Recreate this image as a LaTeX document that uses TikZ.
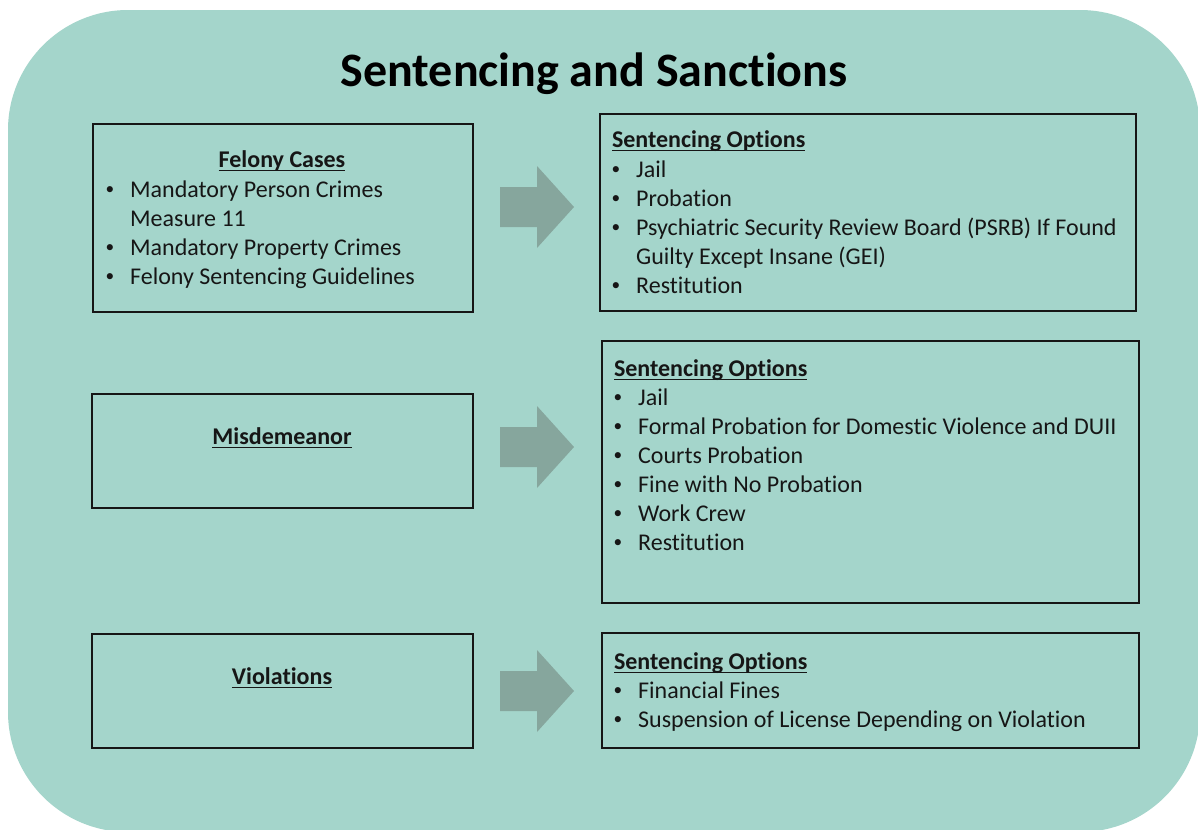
\documentclass[tikz,border=0pt]{standalone}
\usepackage{fontspec}
\setmainfont{Carlito}[Ligatures={NoCommon}]
\usetikzlibrary{fit}

\definecolor{panelteal}{RGB}{164,213,203}
\definecolor{blockgray}{RGB}{134,166,157}
\definecolor{inkdark}{RGB}{22,22,22}

% bold heading with a thin underline just below the baseline
\newcommand\headul[1]{\setbox0\hbox{\bfseries #1}\rlap{\rule[-3.2pt]{\wd0}{1.1pt}}\box0}
% small bullet followed by the hanging indent of the list text
\newcommand\bul{\makebox[18.5pt][l]{\raisebox{1.6pt}{\fontsize{13}{13}\selectfont\textbullet}}}
\newcommand\hang{\hspace*{18.5pt}}

\begin{document}
\begin{tikzpicture}[x=0.75pt,y=-0.75pt,
  box/.style={draw=inkdark, line width=1.8pt, inner sep=0pt},
  txt/.style={inner sep=0pt, outer sep=0pt, text=inkdark,
              font=\fontsize{18}{21.75}\selectfont},
  blockarrow/.style={fill=blockgray}]

\clip (0,0) rectangle (1198,829);
\fill[white] (0,0) rectangle (1198,829);

% rounded panel behind everything
\fill[panelteal, rounded corners=90pt] (8,10) rectangle (1200,832);

\node[anchor=base, inner sep=0pt, text=black,
      font=\fontsize{36}{43}\selectfont\bfseries] (title) at (594,86)
      {Sentencing and Sanctions};

% left column: case categories
\node[box, fit={(93,124) (473,312)}] (felony) {};
\node[txt, anchor=base] (felonyhead) at (282,167) {\headul{Felony Cases}};
\node[txt, anchor=base west] (felonylist) at (105.5,197)
  {\parbox[t]{330pt}{\bul Mandatory Person Crimes\\
                      \hang Measure 11\\
                      \bul Mandatory Property Crimes\\
                      \bul Felony Sentencing Guidelines}};

\node[box, fit={(92,394) (473,508)}] (misd) {};
\node[txt, anchor=base] (misdhead) at (282,444) {\headul{Misdemeanor}};

\node[box, fit={(92,634) (473,748)}] (viol) {};
\node[txt, anchor=base] (violhead) at (282,684) {\headul{Violations}};

% right column: sentencing options
\node[box, fit={(600,114) (1136,311)}] (optfel) {};
\node[txt, anchor=base west] (optfelhead) at (612,147) {\headul{Sentencing Options}};
\node[txt, anchor=base west] (optfellist) at (611.5,177)
  {\parbox[t]{400pt}{\bul Jail\\
                      \bul Probation\\
                      \bul Psychiatric Security Review Board (PSRB) If Found\\
                      \hang Guilty Except Insane (GEI)\\
                      \bul Restitution}};

\node[box, fit={(602,341) (1139,603)}] (optmisd) {};
\node[txt, anchor=base west] (optmisdhead) at (614,376) {\headul{Sentencing Options}};
\node[txt, anchor=base west] (optmisdlist) at (613.5,405)
  {\parbox[t]{400pt}{\bul Jail\\
                      \bul Formal Probation for Domestic Violence and DUII\\
                      \bul Courts Probation\\
                      \bul Fine with No Probation\\
                      \bul Work Crew\\
                      \bul Restitution}};

\node[box, fit={(602,633) (1139,748)}] (optviol) {};
\node[txt, anchor=base west] (optviolhead) at (614,669) {\headul{Sentencing Options}};
\node[txt, anchor=base west] (optviollist) at (613.5,698)
  {\parbox[t]{400pt}{\bul Financial Fines\\
                      \bul Suspension of License Depending on Violation}};

% block arrows between the columns
\foreach \cy in {207,447,691}
  \fill[blockarrow] (500,\cy-20) -- (537,\cy-20) -- (537,\cy-41) -- (574,\cy)
                    -- (537,\cy+41) -- (537,\cy+20) -- (500,\cy+20) -- cycle;

\end{tikzpicture}
\end{document}
